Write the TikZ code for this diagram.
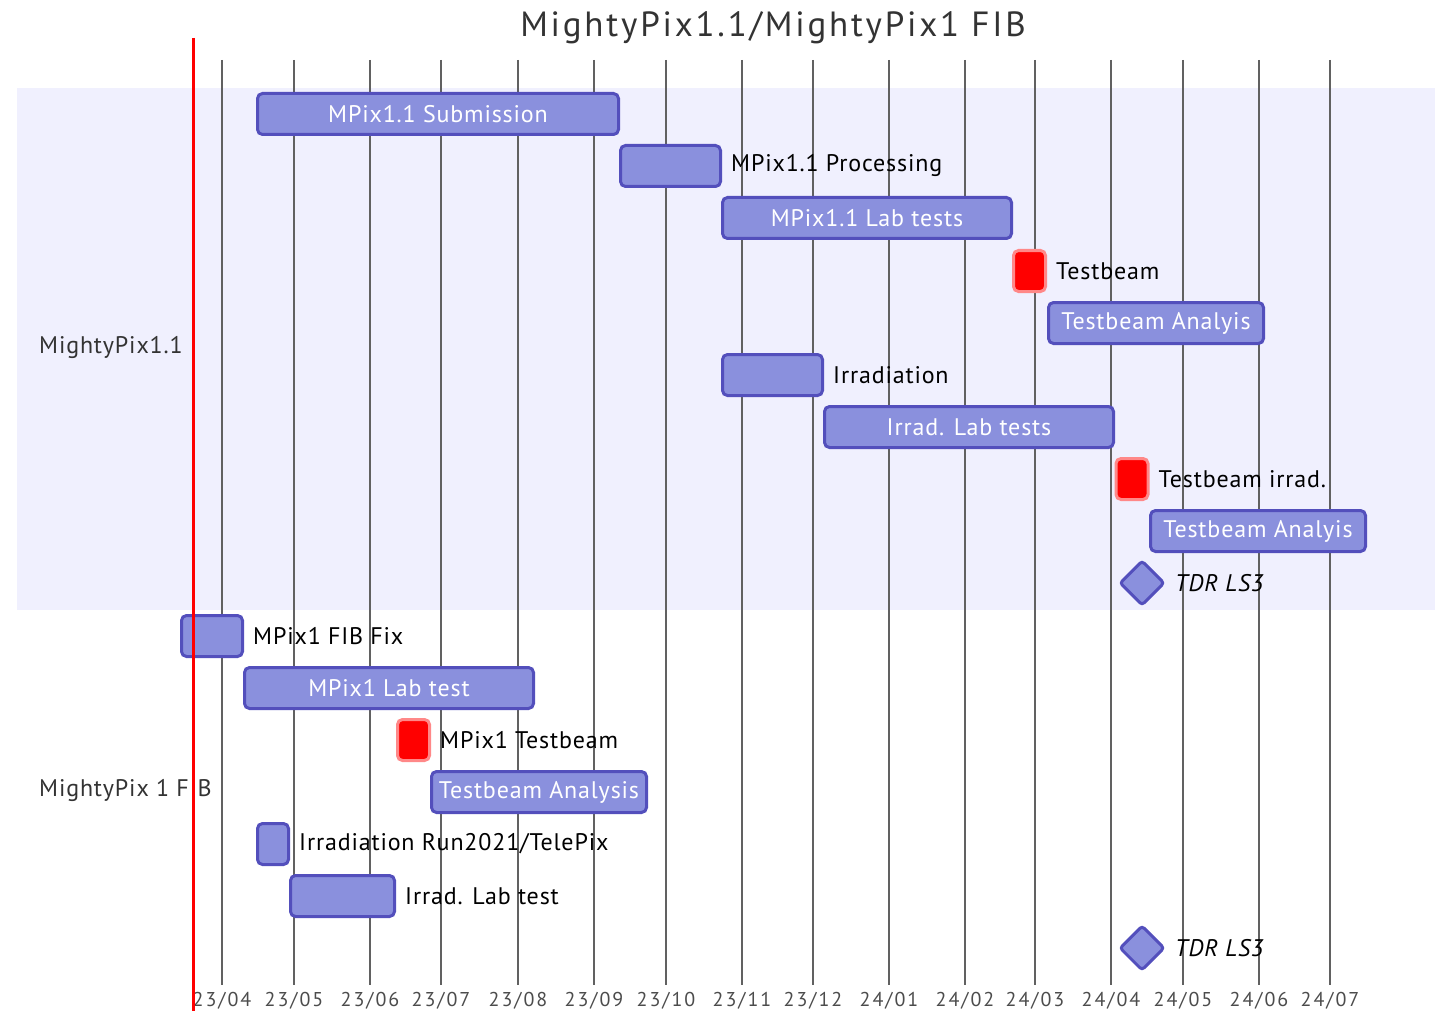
\documentclass[tikz,border=0pt]{standalone}
\usepackage{fontspec}
\setmainfont{PT Sans}
\newfontfamily\ganttfont[LetterSpace=3.5]{PT Sans}
\newfontfamily\titlefont[LetterSpace=8]{PT Sans}
\newfontfamily\tickfont[LetterSpace=10]{PT Sans}
\usetikzlibrary{positioning, shapes.geometric}
\definecolor{taskfill}{HTML}{8A90DD}
\definecolor{taskline}{HTML}{534FBC}
\definecolor{critline}{HTML}{FF8888}
\definecolor{sectbg}{HTML}{F0F0FE}
\definecolor{labgray}{HTML}{333333}
\newcommand{\taskfont}{\ganttfont\fontsize{24}{26}\selectfont}
\tikzstyle{taskbar} = [draw=taskline,fill=taskfill,line width=3pt,rounded corners=5pt,minimum height=41pt,inner sep=0pt,text=white,font=\taskfont]
\tikzstyle{critbar} = [draw=critline,fill=red,line width=3pt,rounded corners=5pt,minimum height=41pt,minimum width=32pt,inner sep=0pt]
\tikzstyle{milestone} = [diamond,draw=taskline,fill=taskfill,line width=3pt,rounded corners=3pt,minimum width=45pt,minimum height=45pt,inner sep=0pt]
\tikzstyle{outlabel} = [inner sep=0pt,font=\taskfont]
\tikzstyle{sectlabel} = [inner sep=0pt,anchor=west,text=labgray,font=\taskfont]

\begin{document}
\begin{tikzpicture}[x=1pt,y=-1pt,node distance=9pt]
	\useasboundingbox (0,0) rectangle (1435,1011);
	\fill[sectbg] (17,88) rectangle (1435,610);
	\node[text=labgray,font=\titlefont\fontsize{35}{38}\selectfont] (title) at (773,28) {MightyPix1.1/MightyPix1 FIB};
	
	\foreach \x/\yy/\mm in {222/23/04,294/23/05,370/23/06,441/23/07,518/23/08,594/23/09,666/23/10,742/23/11,813/23/12,889/24/01,965/24/02,1035/24/03,1111/24/04,1183/24/05,1259/24/06,1330/24/07} {
		\draw[black!62,line width=1.5pt] (\x,60) -- (\x,985);
		\node[text=black!70,font=\tickfont\fontsize{20}{22}\selectfont] (t\yy\mm) at (\x,1001) {\yy/\mm};
	}
	
	\node[sectlabel] (s1) at (39,347) {MightyPix1.1};
	\node[sectlabel] (s2) at (39,790) {MightyPix 1 FIB};
	
	\node[taskbar,minimum width=361pt] (sub) at (438,114) {MPix1.1 Submission};
	\node[taskbar,minimum width=100pt] (proc) at (670.5,166) {};
	\node[outlabel,right=of proc] (procl) {MPix1.1 Processing};
	\node[taskbar,minimum width=289pt] (lab) at (867,218) {MPix1.1 Lab tests};
	\node[critbar] (tb) at (1029.5,271) {};
	\node[outlabel,right=of tb] (tbl) {Testbeam};
	\node[taskbar,minimum width=215pt] (tba) at (1156,323) {Testbeam Analyis};
	\node[taskbar,minimum width=100pt] (irr) at (772.5,375) {};
	\node[outlabel,right=of irr] (irrl) {Irradiation};
	\node[taskbar,minimum width=289pt] (irrlab) at (969,427) {Irrad. Lab tests};
	\node[critbar] (tbirr) at (1132,479) {};
	\node[outlabel,right=of tbirr] (tbirrl) {Testbeam irrad.};
	\node[taskbar,minimum width=215pt] (tbirra) at (1258,531) {Testbeam Analyis};
	\node[milestone] (tdra) at (1142,583) {};
	\node[outlabel,right=of tdra,font=\taskfont\itshape] (tdral) {TDR LS3};
	
	\node[taskbar,minimum width=61pt] (fib) at (212,636) {};
	\node[outlabel,right=of fib] (fibl) {MPix1 FIB Fix};
	\node[taskbar,minimum width=289pt] (mlab) at (389,688) {MPix1 Lab test};
	\node[critbar] (mtb) at (413.5,740) {};
	\node[outlabel,right=of mtb] (mtbl) {MPix1 Testbeam};
	\node[taskbar,minimum width=215pt] (mtba) at (539,792) {Testbeam Analysis};
	\node[taskbar,minimum width=31pt] (run) at (273,844) {};
	\node[outlabel,right=of run] (runl) {Irradiation Run2021/TelePix};
	\node[taskbar,minimum width=104pt] (irrlt) at (342.5,896) {};
	\node[outlabel,right=of irrlt] (irrltl) {Irrad. Lab test};
	\node[milestone] (tdrb) at (1142,948) {};
	\node[outlabel,right=of tdrb,font=\taskfont\itshape] (tdrbl) {TDR LS3};
	
	\draw[red,line width=3pt] (193,38) -- (193,1011);
\end{tikzpicture}
\end{document}
